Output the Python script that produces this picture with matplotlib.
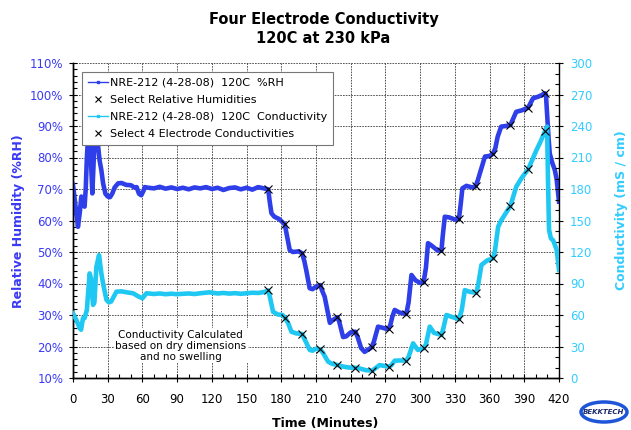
import matplotlib
matplotlib.use('Agg')
import matplotlib.pyplot as plt
from matplotlib.lines import Line2D
from matplotlib.patches import Ellipse
from matplotlib.ticker import MultipleLocator, FuncFormatter

plt.rcParams['font.family'] = 'DejaVu Sans'

BLUE = '#2e3ee8'
CYAN = '#1ec8f2'
BLUE_TXT = '#3a3af5'
CYAN_TXT = '#33ccff'

# RH trace (minutes, %RH)
rh_t = [0, 2, 4.3, 6, 7.2, 8.5, 10, 11, 12, 13.5, 15, 16.7, 18, 19.5, 21, 23, 24.5,
        26, 28, 30, 32, 34, 36, 39, 42, 46, 50, 53, 55, 57, 59, 61, 62, 65, 70, 75,
        80, 85, 90, 95, 100, 105, 110, 115, 120, 125, 130, 135, 140, 145, 150, 155,
        160, 165, 168.7, 170, 171.5, 174, 178, 183, 185, 187.3, 190, 195, 198, 200,
        201.7, 204.5, 207, 210, 213.8, 215, 217.5, 222, 225, 228.5, 230, 233.4, 236,
        240, 244, 246, 249, 252, 255, 258, 260, 263.6, 267, 272, 274, 276, 278, 282,
        288, 290, 292.5, 296, 300, 303, 305, 306.8, 310, 315, 318.4, 319.5, 321.3,
        325, 330, 333.5, 335, 336.5, 340, 345, 348, 350, 353, 356, 360, 363, 365,
        367, 370, 374, 378, 383, 388, 393.3, 397.6, 402, 405, 407.7, 408.7, 409.7,
        411, 412, 414, 416.4, 418, 420]
rh = [71.3, 65, 58, 63, 67.6, 66, 64.4, 70, 80, 90, 84, 68.6, 80, 92, 86, 79, 76,
      71.8, 68.5, 67.6, 67.4, 68.6, 70.5, 71.8, 71.9, 71.3, 71.2, 70.5, 70.6, 68.5,
      68, 69.5, 70.6, 70.4, 70.2, 70.7, 70.1, 70.5, 70.0, 70.4, 69.9, 70.5, 70.2,
      70.6, 70.0, 70.4, 69.7, 70.3, 70.5, 69.9, 70.4, 69.8, 70.6, 70.2, 69.9, 66,
      62.3, 61.2, 60.5, 58.8, 55, 50.6, 50, 50.2, 49.6, 47, 44, 38.5, 38.2, 39, 39.5,
      38, 35.8, 27.5, 28.5, 29.3, 28, 23, 23.2, 24.5, 24.7, 23, 19.5, 18.3, 19, 19.7,
      21.5, 26.3, 26, 25.5, 26.5, 29.5, 31.6, 30.8, 30.3, 34, 42.7, 41, 40.2, 40.4,
      45, 52.8, 52, 50.5, 50.4, 55, 61.2, 61, 60.3, 60.5, 65, 70.2, 71, 70.5, 70.9,
      73, 76.6, 80.3, 80.5, 81.2, 83, 86.6, 89.8, 90, 90.3, 94.5, 95, 95.8, 98.8,
      99.3, 99.8, 100.4, 100, 94, 86, 81.3, 78.5, 76, 73, 66]

# conductivity trace (minutes, mS/cm)
cond_t = [0, 3, 5.8, 7, 8.6, 10, 12, 13, 14.4, 15.5, 17.3, 18.5, 20.2, 22.5, 24.5,
          26, 28.9, 31, 33, 35, 37.5, 42, 47, 51.9, 56, 60, 63.5, 70, 75, 80, 85,
          89.6, 95, 100, 105, 110, 118, 125, 130, 135, 140, 145, 150, 155, 160, 165,
          168.7, 170, 172.9, 177, 181, 183.5, 186, 188.8, 193, 198, 201, 204.6, 207,
          210, 213.8, 216, 220.4, 224, 228.5, 233, 238, 243.5, 248, 253, 258.7, 261,
          265, 269, 273, 275, 278, 283, 288, 290, 293.9, 298, 303, 305, 308.3, 312,
          318.4, 320, 322.7, 328, 333.6, 336, 338.6, 343, 348.6, 350, 353, 358, 363,
          364.5, 367.4, 370, 374, 378, 383, 388, 393.3, 397, 400.5, 404, 407.7,
          409.7, 410.5, 411.4, 413, 415, 418, 420]
cond = [61.5, 55, 47.4, 46, 57, 57, 64.8, 80, 99.6, 95, 69.6, 72, 105.9, 117, 99.6,
        90, 74.4, 72, 72.9, 77, 82.2, 82.5, 81.5, 80.7, 78, 75.9, 80.7, 80, 80.5,
        79.8, 80.3, 79.8, 80.2, 80.5, 80, 80.7, 81.6, 80.5, 81, 80.4, 80.8, 80.2,
        80.7, 81.2, 81, 81.8, 83.4, 78, 63, 60.5, 60, 57, 52, 44, 42.5, 41.9, 35,
        26.7, 26, 27.9, 27.3, 24, 15.6, 13.5, 12.4, 11, 10, 9.8, 9, 7.5, 7, 9, 12.3,
        11.5, 10.8, 12, 16.5, 16.7, 16.5, 20, 33, 26.7, 28.3, 32, 48.9, 43, 41, 47,
        60, 58, 56, 65, 83.7, 82, 81.3, 88, 107.7, 112, 114, 120, 144, 150, 157,
        163.8, 182, 191, 198.7, 208, 217, 225, 234.6, 239.4, 188.7, 141, 133, 131,
        122, 103]

# selected points
sel_t = [168.7, 183.3, 198, 213.8, 228.5, 244, 258.3, 272.7, 288, 303, 318.4, 333.5,
         348.3, 363, 377.8, 393.3, 407.8]
sel_rh = [69.9, 58.8, 49.6, 39.5, 29.3, 24.7, 19.7, 25.5, 30.3, 40.4, 50.4, 60.6,
          70.8, 81.2, 90.3, 95.8, 100.4]
sel_cond = [84, 56.8, 41.9, 27.3, 12.4, 9.8, 7, 10.8, 16.5, 28.3, 41, 56, 81.3, 114,
            163.8, 198.8, 235]

labels = ['NRE-212 (4-28-08)  120C  %RH', 'Select Relative Humidities',
          'NRE-212 (4-28-08)  120C  Conductivity', 'Select 4 Electrode Conductivities']

fig = plt.figure(figsize=(6.31, 4.30), dpi=100)
ax = fig.add_axes([73/631, 52/430, 486/631, 315/430])
ax2 = ax.twinx()

ax.plot(rh_t, rh, color=BLUE, lw=3.3, zorder=3)
ax.plot(sel_t, sel_rh, 'x', color='black', ms=5.5, mew=0.8, zorder=4)
ax2.plot(cond_t, cond, color=CYAN, lw=3.3, zorder=3)
ax2.plot(sel_t, sel_cond, 'x', color='black', ms=5.5, mew=0.8, zorder=4)

ax.set_xlim(0, 420)
ax.set_ylim(10, 110)
ax2.set_ylim(0, 300)

ax.xaxis.set_major_locator(MultipleLocator(30))
ax.xaxis.set_minor_locator(MultipleLocator(10))
ax.yaxis.set_major_locator(MultipleLocator(10))
ax.yaxis.set_minor_locator(MultipleLocator(2))
ax.yaxis.set_major_formatter(FuncFormatter(lambda v, p: '%d%%' % v))
ax2.yaxis.set_major_locator(MultipleLocator(30))
ax2.yaxis.set_minor_locator(MultipleLocator(10))

ax.grid(True, which='major', color='#3c3c3c', lw=0.6, ls=(0, (2, 1.3)))
ax.set_axisbelow(True)

for a in (ax, ax2):
    a.spines['top'].set_visible(False)
    for s in a.spines.values():
        s.set_linewidth(1.0)
ax.spines['right'].set_visible(False)

ax.tick_params(axis='x', which='major', direction='inout', length=6, width=0.8,
               labelsize=8.5, pad=8, labelcolor='black')
ax.tick_params(axis='x', which='minor', direction='in', length=3, width=0.8)
ax.tick_params(axis='y', which='major', direction='inout', length=6, width=0.8,
               labelsize=8.5, pad=4, labelcolor=BLUE_TXT)
ax.tick_params(axis='y', which='minor', direction='in', length=3, width=0.8)
ax2.tick_params(axis='y', which='major', direction='inout', length=6, width=0.8,
                labelsize=8.5, pad=5, labelcolor=CYAN_TXT)
ax2.tick_params(axis='y', which='minor', direction='in', length=3, width=0.8)

handles = [Line2D([], [], color=BLUE, lw=1, marker='s', ms=2),
           Line2D([], [], color='black', ls='none', marker='x', ms=5, mew=0.8),
           Line2D([], [], color=CYAN, lw=1, marker='s', ms=2),
           Line2D([], [], color='black', ls='none', marker='x', ms=5, mew=0.8)]
leg = ax2.legend(handles, labels, loc='upper left', bbox_to_anchor=(0.018, 0.972),
                 fontsize=8, frameon=True, fancybox=False, framealpha=1,
                 edgecolor='#777777', handlelength=1.8, handletextpad=0.2,
                 labelspacing=0.62, borderpad=0.55, borderaxespad=0)
leg.get_frame().set_linewidth(0.8)
leg.set_zorder(10)

ax.text(93, 20.2, 'Conductivity Calculated\nbased on dry dimensions\nand no swelling',
        ha='center', va='center', fontsize=7.5, linespacing=1.15, zorder=5,
        bbox=dict(facecolor='white', edgecolor='none', pad=1))

fig.text(0.5127, 1 - 12/430, 'Four Electrode Conductivity\n120C at 230 kPa',
         ha='center', va='top', fontsize=10.5, fontweight='bold', linespacing=1.3)
fig.text(325/631, 7/430, 'Time (Minutes)', ha='center', va='center',
         fontsize=9, fontweight='bold')
fig.text(18.5/631, 1 - 221/430, 'Relative Humidity (%RH)', rotation=90,
         ha='center', va='center', fontsize=9, fontweight='bold', color=BLUE_TXT)
fig.text(621/631, 1 - 210/430, 'Conductivity (mS / cm)', rotation=90,
         ha='center', va='center', fontsize=9, fontweight='bold', color=CYAN_TXT)

# small logo in the corner
logo = Ellipse((604/631, 1 - 412/430), 46/631, 20/430, transform=fig.transFigure,
               facecolor='white', edgecolor='#1d55d8', lw=2.5)
fig.patches.append(logo)
fig.text(604/631, 1 - 412/430, 'BEKKTECH', ha='center', va='center', fontsize=5,
         fontweight='bold', style='italic', color='#1a2a6c')

fig.savefig('out.png', dpi=100)
